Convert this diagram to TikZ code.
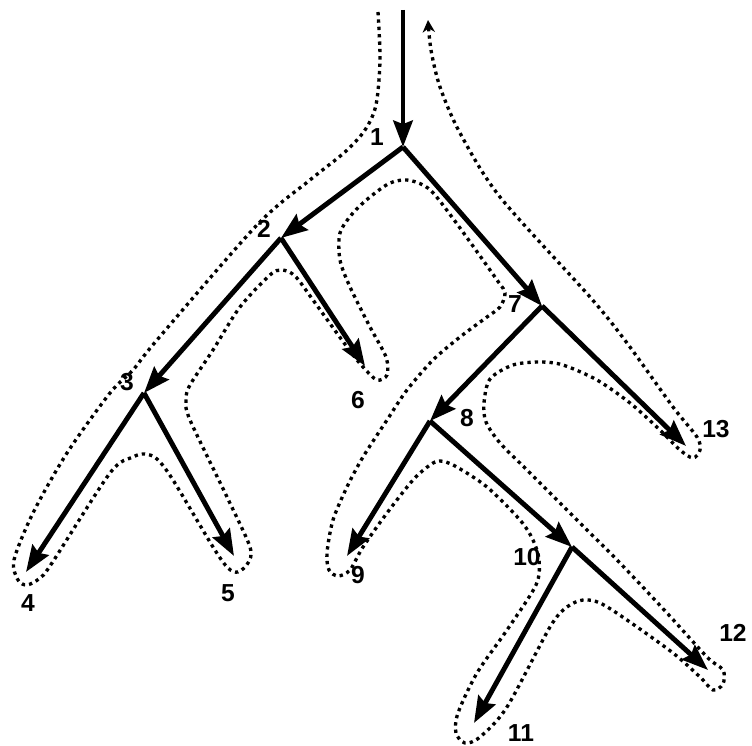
\documentclass[tikz,border=0pt]{standalone}
\usepackage{fontspec}
\setmainfont{Liberation Sans}
\usetikzlibrary{arrows.meta}

\begin{document}
\begin{tikzpicture}[x=0.02cm,y=-0.02cm,
  edge/.style={line width=2.8pt,-{Stealth[length=15pt,width=11pt,inset=2pt]}},
  tour/.style={line width=1.9pt,dash pattern=on 1.9pt off 2.3pt},
  num/.style={font=\fontsize{14}{16}\selectfont\bfseries,inner sep=0pt}]
\useasboundingbox (0,0) rectangle (752,746);
\coordinate (top) at (403,10);
\coordinate (n1) at (403,147);
\coordinate (n2) at (281,238);
\coordinate (n3) at (144,393);
\coordinate (n4) at (26,572);
\coordinate (n5) at (234,556);
\coordinate (n6) at (365,366);
\coordinate (n7) at (542,306);
\coordinate (n8) at (430,421);
\coordinate (n9) at (347,556);
\coordinate (n10) at (572,547);
\coordinate (n11) at (474,723);
\coordinate (n12) at (708,670);
\coordinate (n13) at (686,446);
\draw [edge] (top) to (n1);
\draw [edge] (n1) to (n2);
\draw [edge] (n2) to (n3);
\draw [edge] (n3) to (n4);
\draw [edge] (n3) to (n5);
\draw [edge] (n2) to (n6);
\draw [edge] (n1) to (n7);
\draw [edge] (n7) to (n8);
\draw [edge] (n8) to (n9);
\draw [edge] (n8) to (n10);
\draw [edge] (n10) to (n11);
\draw [edge] (n10) to (n12);
\draw [edge] (n7) to (n13);
\node [num] (l1) at (377,137) {1};
\node [num] (l2) at (264,229) {2};
\node [num] (l3) at (127,382) {3};
\node [num] (l4) at (28,603) {4};
\node [num] (l5) at (228,593) {5};
\node [num] (l6) at (358,400) {6};
\node [num] (l7) at (515,304) {7};
\node [num] (l8) at (467,418) {8};
\node [num] (l9) at (358,575) {9};
\node [num] (l10) at (527,557) {10};
\node [num] (l11) at (521,733) {11};
\node [num] (l12) at (733,633) {12};
\node [num] (l13) at (716,429) {13};
\draw [tour,-{Stealth[length=7pt,width=7pt]}] plot [smooth,tension=0.5] coordinates {
  (378,12) (380,60) (376,105) (365,130) (345,152) (310,180) (257,225)
  (157,340) (133,370) (110,393) (67,453) (33,513) (14,560) (18,580) (27,585)
  (40,578) (52,563) (110,473) (133,457) (145,454) (157,459) (173,480) (213,547)
  (228,568) (238,572) (248,563) (250,547) (227,497) (190,420) (186,400) (190,385)
  (213,350) (240,307) (270,275) (282,270) (295,276) (313,300) (347,347) (363,367)
  (377,380) (387,375) (386,357) (370,327) (350,287) (340,260) (340,233) (353,213)
  (370,197) (390,183) (407,180) (423,185) (435,195) (460,228) (497,280) (505,293)
  (500,307) (487,317) (460,337) (433,360) (407,390) (387,420) (363,457) (347,487)
  (333,520) (327,553) (329,570) (338,576) (350,570) (363,547) (387,513) (413,480)
  (430,465) (440,461) (455,466) (487,487) (520,520) (533,540) (539,560) (536,585)
  (507,630) (477,673) (458,713) (456,733) (465,743) (480,737) (507,707) (550,627)
  (567,607) (583,600) (600,603) (627,620) (673,653) (700,677) (713,690) (723,684)
  (723,670) (707,657) (667,613) (620,563) (580,523) (527,470) (500,443) (486,422)
  (484,403) (490,379) (513,365) (540,362) (563,365) (597,380) (630,403) (660,430)
  (680,450) (693,458) (700,450) (697,437) (673,407) (627,343) (590,297)
  (500,197) (460,133) (440,87) (431,50) (428,20)};
\end{tikzpicture}
\end{document}
